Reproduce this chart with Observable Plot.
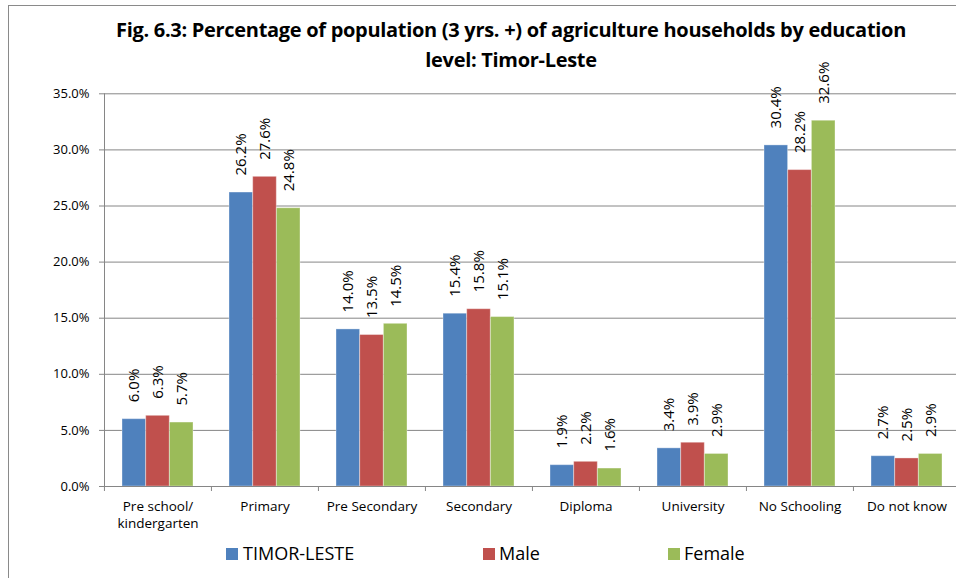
<!DOCTYPE html>
<html>
<head>
<meta charset="utf-8">
<script src="https://cdn.jsdelivr.net/npm/d3@7"></script>
<script src="https://cdn.jsdelivr.net/npm/@observablehq/plot@0.6"></script>
<style>
  body { margin: 0; overflow: hidden; background: #fff; }
  #wrap { position: relative; width: 956px; height: 578px; overflow: hidden; background: #fff; font-family: "Open Sans", sans-serif; color: #000; }
  #chart { position: absolute; left: 0; top: 0; }
  #border { position: absolute; left: 8px; top: 5px; width: 1000px; height: 1000px; border-left: 1px solid #8a8a8a; border-top: 1px solid #8a8a8a; pointer-events: none; }
  #title { position: absolute; left: 61px; width: 900px; top: 15px; text-align: center; font-weight: bold; font-size: 20px; line-height: 30px; letter-spacing: -0.3px; }
  .leg { position: absolute; top: 544px; font-size: 18px; line-height: 18px; white-space: nowrap; }
  .sw { position: absolute; width: 12px; height: 12px; top: 548px; }
</style>
</head>
<body>
<div id="wrap">
  <div id="chart"></div>
  <div id="border"></div>
  <div id="title">Fig. 6.3: Percentage of population (3 yrs. +) of agriculture households by education<br>level: Timor-Leste</div>
  <div id="legend"></div>
</div>
<script>
const categories = ["Pre school/\nkindergarten", "Primary", "Pre Secondary", "Secondary", "Diploma", "University", "No Schooling", "Do not know"];
const series = ["TIMOR-LESTE", "Male", "Female"];
const timorLeste = [6.0, 26.2, 14.0, 15.4, 1.9, 3.4, 30.4, 2.7];
const male = [6.3, 27.6, 13.5, 15.8, 2.2, 3.9, 28.2, 2.5];
const female = [5.7, 24.8, 14.5, 15.1, 1.6, 2.9, 32.6, 2.9];
const yTicks = [0, 5, 10, 15, 20, 25, 30, 35];
const colors = ["#4F81BD", "#C0504D", "#9BBB59"];

const seriesValues = [timorLeste, male, female];
const x0 = 104, x1 = 960.8;
const bw = (x1 - x0) / categories.length;
const barW = 23.7;
const groupPad = (bw - 3 * barW) / 2;
const gray = "#868686";

const marks = [
  Plot.gridY(yTicks, {stroke: gray, strokeOpacity: 1})
];
seriesValues.forEach((vals, i) => {
  const rows = categories.map((c, k) => ({category: c, value: vals[k], series: series[i]}));
  marks.push(Plot.barY(rows, {
    x: "category", y: "value", fill: colors[i],
    insetLeft: groupPad + i * barW,
    insetRight: bw - groupPad - (i + 1) * barW,
    stroke: "#ffffff", strokeOpacity: 0.35, strokeWidth: 1
  }));
  marks.push(Plot.text(rows, {
    x: "category", y: "value", text: d => d.value.toFixed(1) + "%",
    rotate: -90, textAnchor: "start", lineAnchor: "middle",
    dx: -bw / 2 + groupPad + (i + 0.5) * barW, dy: -17,
    fontSize: 15, fill: "#000"
  }));
});
marks.push(
  Plot.ruleY([0], {stroke: gray, strokeOpacity: 1}),
  Plot.frame({anchor: "left", stroke: gray, strokeOpacity: 1}),
  Plot.ruleX(categories, {x: d => d, y1: 0, y2: 0, insetTop: 5, dx: -bw / 2, stroke: gray, strokeOpacity: 1}),
  Plot.axisY({ticks: yTicks, tickFormat: d => d.toFixed(1) + "%", tickSize: 5, tickPadding: 10, fontSize: 13, stroke: gray, strokeOpacity: 1, fill: "#000", label: null}),
  Plot.axisX({tickSize: 0, tickPadding: 12, fontSize: 13.5, lineHeight: 1.28, fill: "#000", label: null})
);

const chart = Plot.plot({
  width: 956,
  height: 578,
  marginLeft: 104,
  marginTop: 93.3,
  marginBottom: 92,
  marginRight: 0,
  style: {fontFamily: "Open Sans", fontSize: "13px", background: "transparent", color: "#000", overflow: "hidden"},
  x: {domain: categories, range: [x0, x1], padding: 0, axis: null, label: null},
  y: {domain: [0, 35], range: [486, 93.3], axis: null, label: null},
  marks
});
document.getElementById("chart").appendChild(chart);

const legendPos = [{sq: 226, tx: 243}, {sq: 483, tx: 499}, {sq: 668, tx: 684}];
const legend = document.getElementById("legend");
series.forEach((s, i) => {
  const sw = document.createElement("div");
  sw.className = "sw";
  sw.style.left = legendPos[i].sq + "px";
  sw.style.background = colors[i];
  legend.appendChild(sw);
  const t = document.createElement("div");
  t.className = "leg";
  t.style.left = legendPos[i].tx + "px";
  t.textContent = s;
  legend.appendChild(t);
});
</script>
</body>
</html>
